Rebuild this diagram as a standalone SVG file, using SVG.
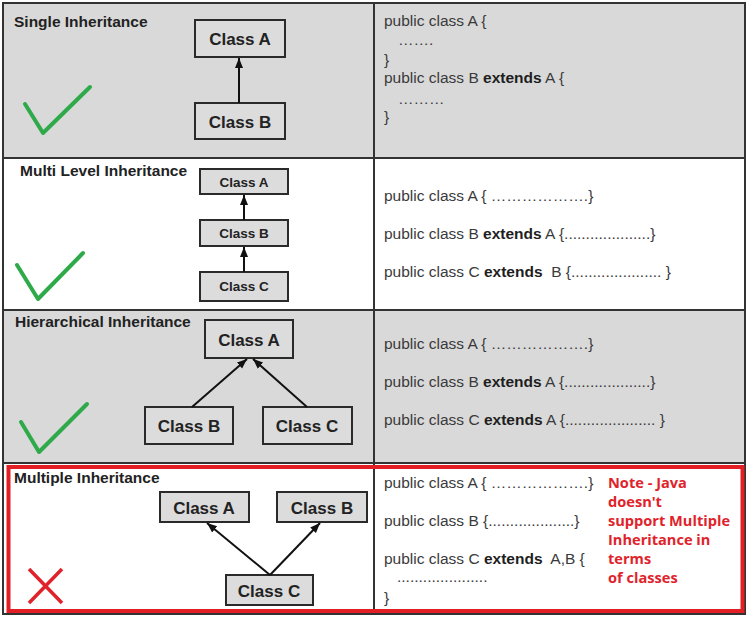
<svg xmlns="http://www.w3.org/2000/svg" width="750" height="618" viewBox="0 0 750 618">
<style>
.bg{fill:#d9d9d9}
.wh{fill:#ffffff}
.grid{fill:none;stroke:#333;stroke-width:2}
.title{font-family:"Liberation Sans",Arial,sans-serif;font-weight:bold;font-size:15.5px;fill:#222}
.box{fill:#dcdcdc;stroke:#2a2a2a;stroke-width:2}
.lbl{font-family:"Liberation Sans",Arial,sans-serif;font-weight:bold;font-size:17px;fill:#222;text-anchor:middle}
.lbls{font-family:"Liberation Sans",Arial,sans-serif;font-weight:bold;font-size:13.5px;fill:#222;text-anchor:middle}
.code{font-family:"Liberation Sans",Arial,sans-serif;font-size:15.5px;fill:#3a3a3a}
.kw{font-weight:bold;fill:#1e1e1e}
.edge{stroke:#111;stroke-width:2;fill:none;marker-end:url(#arr)}
.ok{fill:none;stroke:#2eaa4a;stroke-width:4;stroke-linecap:round;stroke-linejoin:round}
.no{fill:none;stroke:#e0232b;stroke-width:3.5}
.note{font-family:"Open Sans","Noto Sans",sans-serif;font-weight:bold;font-size:14.6px;fill:#e0232b}
</style>
<defs>
<marker id="arr" viewBox="0 0 10 10" refX="10" refY="5" markerWidth="10" markerHeight="10" markerUnits="userSpaceOnUse" orient="auto">
<path d="M0,1 L10,5 L0,9 z" fill="#111"/>
</marker>
</defs>

<!-- backgrounds -->
<rect x="0" y="0" width="750" height="618" fill="#ffffff"/>
<rect class="bg" x="3" y="3" width="742" height="155"/>
<rect class="wh" x="3" y="158" width="742" height="152"/>
<rect class="bg" x="3" y="310" width="742" height="153"/>
<rect class="wh" x="3" y="463" width="742" height="151"/>

<!-- grid -->
<g id="grid">
<rect class="grid" x="3" y="3" width="742" height="611"/>
<line class="grid" x1="3" y1="158" x2="745" y2="158"/>
<line class="grid" x1="3" y1="310" x2="745" y2="310"/>
<line class="grid" x1="3" y1="463" x2="745" y2="463"/>
<line class="grid" x1="374" y1="3" x2="374" y2="614"/>
</g>

<!-- Row 1: Single -->
<g id="single">
<text class="title" x="14" y="27">Single Inheritance</text>
<path class="ok" d="M25,104 L43,133 L90,87"/>
<g id="s-classA"><rect class="box" x="195" y="20" width="90" height="37"/><text class="lbl" x="240" y="45">Class A</text></g>
<g id="s-classB"><rect class="box" x="195" y="103" width="90" height="36"/><text class="lbl" x="240" y="128">Class B</text></g>
<g id="s-code">
<text class="code" x="384" y="26">public class A {</text>
<text class="code" x="398" y="45">…….</text>
<text class="code" x="384" y="65">}</text>
<text class="code" x="384" y="83">public class B <tspan class="kw">extends</tspan> A {</text>
<text class="code" x="398" y="104">………</text>
<text class="code" x="384" y="122">}</text>
</g>
</g>

<!-- Row 2: Multi level -->
<g id="multilevel">
<text class="title" x="20" y="176">Multi Level Inheritance</text>
<path class="ok" d="M17,265 L38,299 L83,253"/>
<g id="m-classA"><rect class="box" x="200" y="169" width="88" height="25"/><text class="lbls" x="244" y="187">Class A</text></g>
<g id="m-classB"><rect class="box" x="200" y="220" width="88" height="26"/><text class="lbls" x="244" y="238">Class B</text></g>
<g id="m-classC"><rect class="box" x="200" y="272" width="88" height="29"/><text class="lbls" x="244" y="291">Class C</text></g>
<g id="m-code">
<text class="code" x="384" y="201">public class A { ……………….}</text>
<text class="code" x="384" y="239">public class B <tspan class="kw">extends</tspan> A {....................}</text>
<text class="code" x="384" y="277">public class C <tspan class="kw">extends</tspan>&#160; B {..................... }</text>
</g>
</g>

<!-- Row 3: Hierarchical -->
<g id="hierarchical">
<text class="title" x="15" y="327">Hierarchical Inheritance</text>
<path class="ok" d="M21,422 L39,452 L87,404"/>
<g id="h-classA"><rect class="box" x="205" y="320" width="88" height="38"/><text class="lbl" x="249" y="346">Class A</text></g>
<g id="h-classB"><rect class="box" x="145" y="407" width="88" height="37"/><text class="lbl" x="189" y="432">Class B</text></g>
<g id="h-classC"><rect class="box" x="263" y="407" width="89" height="37"/><text class="lbl" x="307" y="432">Class C</text></g>
<g id="h-code">
<text class="code" x="384" y="349">public class A { ……………….}</text>
<text class="code" x="384" y="387">public class B <tspan class="kw">extends</tspan> A {....................}</text>
<text class="code" x="384" y="425">public class C <tspan class="kw">extends</tspan> A {..................... }</text>
</g>
</g>

<!-- Row 4: Multiple -->
<g id="multiple">
<text class="title" x="14" y="483">Multiple Inheritance</text>
<path class="no" d="M29,569 L62,603 M62,569 L29,603"/>
<g id="mu-classA"><rect class="box" x="160" y="492" width="89" height="30"/><text class="lbl" x="204" y="514">Class A</text></g>
<g id="mu-classB"><rect class="box" x="277" y="492" width="90" height="30"/><text class="lbl" x="322" y="514">Class B</text></g>
<g id="mu-classC"><rect class="box" x="226" y="575" width="87" height="30"/><text class="lbl" x="269" y="597">Class C</text></g>
<g id="mu-code">
<text class="code" x="384" y="488">public class A { ……………….}</text>
<text class="code" x="384" y="526">public class B {....................}</text>
<text class="code" x="384" y="564">public class C <tspan class="kw">extends</tspan>&#160; A,B {</text>
<text class="code" x="397" y="582">.....................</text>
<text class="code" x="384" y="603">}</text>
</g>
<g id="note">
<text class="note" x="608" y="488">Note - Java</text>
<text class="note" x="608" y="507">doesn't</text>
<text class="note" x="608" y="526">support Multiple</text>
<text class="note" x="608" y="545">Inheritance in</text>
<text class="note" x="608" y="564">terms</text>
<text class="note" x="608" y="583">of classes</text>
</g>
<rect id="red-frame" x="8.5" y="467" width="734" height="144" fill="none" stroke="#e31e24" stroke-width="4"/>
</g>

<!-- connectors -->
<g id="connectors">
<line class="edge" x1="239" y1="103" x2="239" y2="58"/>
<line class="edge" x1="244" y1="220" x2="244" y2="195"/>
<line class="edge" x1="244" y1="272" x2="244" y2="247"/>
<line class="edge" x1="192" y1="407" x2="247" y2="359"/>
<line class="edge" x1="307" y1="407" x2="253" y2="359"/>
<line class="edge" x1="270" y1="575" x2="207" y2="523"/>
<line class="edge" x1="270" y1="575" x2="320" y2="523"/>
</g>
</svg>
